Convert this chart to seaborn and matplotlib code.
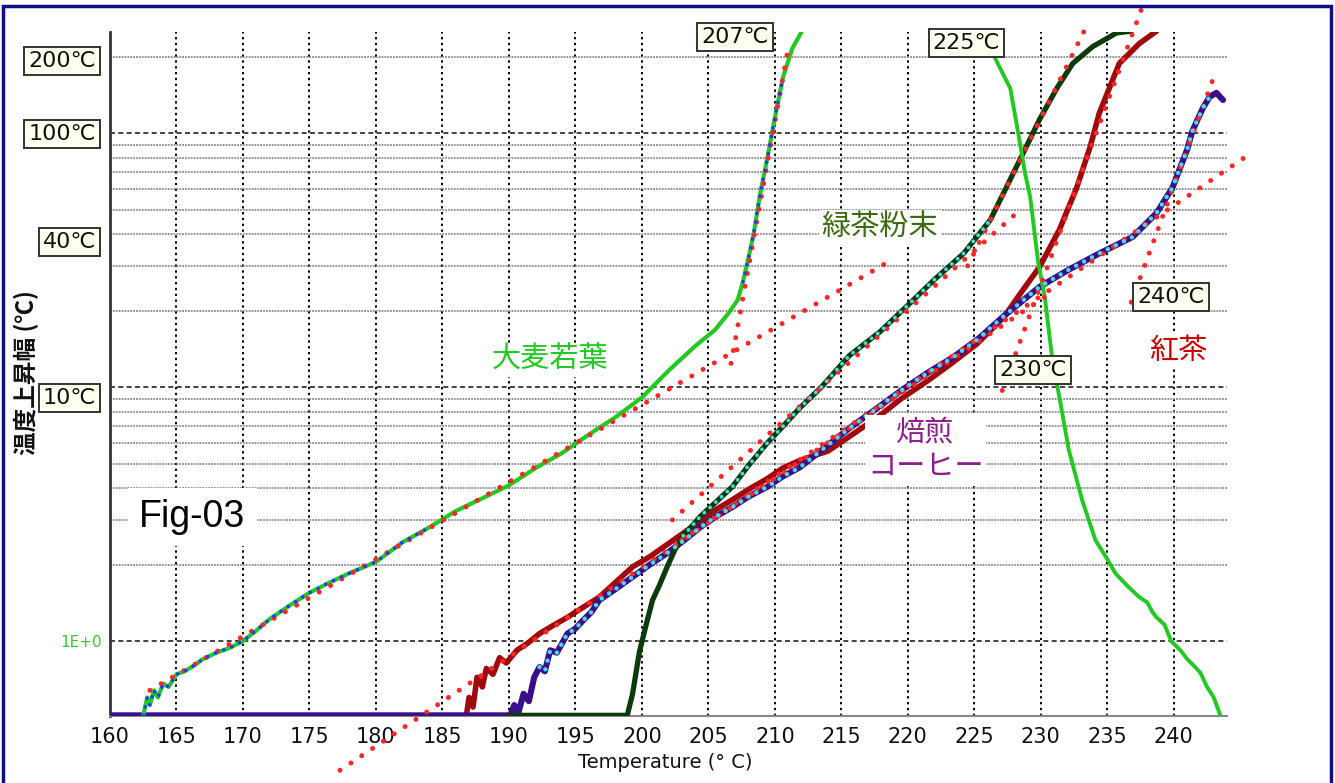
import numpy as np
import matplotlib
matplotlib.use("Agg")
import matplotlib.pyplot as plt
import matplotlib.ticker as mticker
import matplotlib.patches as mpatches
import seaborn as sns

# ============================================================
# DATA
# ============================================================

barley_t = [162.5, 162.8, 163.0, 163.3, 163.6, 164.0, 164.4, 165.0, 165.6, 166.3,
            167.0, 168.0, 169.0, 170.0, 171.0, 172.0, 173.5, 175.0, 176.5, 178.0,
            180.0, 182.0, 184.0, 186.0, 188.0, 190.0, 192.0, 194.0, 196.0, 198.0,
            200.0, 202.0, 204.0, 205.5, 206.5, 207.2, 207.6, 208.0, 208.4, 208.9,
            209.4, 210.0, 210.6, 211.3, 212.0, 212.4]
barley_v = [0.51, 0.60, 0.56, 0.64, 0.60, 0.68, 0.66, 0.74, 0.76, 0.80,
            0.85, 0.90, 0.94, 1.00, 1.10, 1.22, 1.38, 1.55, 1.70, 1.85,
            2.05, 2.45, 2.80, 3.25, 3.65, 4.10, 4.80, 5.50, 6.50, 7.60,
            9.10, 11.6, 14.5, 16.8, 19.5, 22.0, 26.0, 32.0, 40.0, 58.0,
            78.0, 115.0, 165.0, 215.0, 250.0, 290.0]

barley_drop_t = [226.2, 226.5, 227.7, 228.3, 228.8, 229.2, 229.8, 230.3, 230.9, 231.4,
                 232.1, 233.1, 234.1, 235.0, 235.6, 236.5, 237.4, 238.0, 238.4, 238.7,
                 239.3, 239.8, 240.5, 241.0, 241.5, 242.0, 242.5, 243.0, 243.5]
barley_drop_v = [280.0, 200.0, 150.0, 100.0, 70.0, 56.0, 31.0, 22.6, 12.4, 9.1,
                 5.66, 3.60, 2.50, 2.10, 1.85, 1.65, 1.49, 1.42, 1.30, 1.24,
                 1.16, 1.00, 0.92, 0.85, 0.80, 0.75, 0.66, 0.60, 0.51]

greentea_t = [190.1, 197.5, 198.9, 199.3, 199.8, 200.3, 200.8, 201.3, 201.9, 202.5,
              203.1, 203.8, 204.4, 205.5, 206.8, 208.0, 209.4, 210.6, 211.9, 213.5,
              215.6, 217.9, 220.0, 222.0, 224.2, 226.2, 228.4, 229.9, 231.2, 232.4,
              233.9, 235.7, 236.8]
greentea_v = [0.51, 0.51, 0.51, 0.62, 0.90, 1.15, 1.45, 1.65, 1.96, 2.30,
              2.60, 2.85, 3.10, 3.50, 4.05, 4.90, 6.00, 7.00, 8.30, 10.0,
              13.3, 16.5, 21.0, 26.5, 33.6, 45.5, 78.0, 113.0, 150.0, 188.0,
              219.0, 248.0, 252.0]

blacktea_t = [186.8, 187.0, 187.3, 187.6, 188.0, 188.3, 188.8, 189.3, 189.8, 190.6,
              191.4, 192.3, 193.3, 194.4, 195.5, 196.8, 198.0, 199.3, 200.6, 201.9,
              203.2, 204.4, 205.6, 206.8, 208.0, 209.4, 210.6, 211.9, 214.0, 216.0,
              218.0, 219.5, 221.5, 223.2, 225.2, 227.2, 228.5, 229.9, 231.4, 232.7,
              233.7, 234.4, 235.9, 237.4, 238.7]
blacktea_v = [0.51, 0.60, 0.55, 0.72, 0.66, 0.78, 0.74, 0.86, 0.82, 0.92,
              0.98, 1.07, 1.15, 1.24, 1.35, 1.49, 1.70, 1.96, 2.15, 2.40,
              2.68, 2.98, 3.30, 3.60, 3.95, 4.35, 4.80, 5.15, 5.60, 6.60,
              7.80, 9.00, 10.6, 12.3, 14.8, 18.8, 23.5, 29.7, 41.7, 61.0,
              88.0, 120.0, 188.0, 225.0, 252.0]

coffee_t = [160.0, 190.1, 190.4, 190.7, 191.1, 191.5, 191.9, 192.3, 192.7, 193.1,
            193.6, 194.4, 195.0, 195.6, 196.2, 196.8, 198.0, 199.3, 200.6, 201.9,
            203.2, 204.4, 205.6, 206.8, 208.0, 209.4, 210.6, 211.9, 213.8, 215.7,
            217.6, 219.5, 221.5, 223.4, 225.3, 227.2, 229.9, 232.0, 234.4, 236.9,
            238.7, 239.9, 241.0, 241.4, 242.2, 242.7, 243.2, 243.7]
coffee_v = [0.51, 0.51, 0.56, 0.52, 0.62, 0.58, 0.72, 0.79, 0.76, 0.92,
            0.90, 1.07, 1.12, 1.21, 1.30, 1.45, 1.60, 1.79, 2.00, 2.22,
            2.50, 2.81, 3.10, 3.37, 3.70, 4.04, 4.45, 4.84, 5.80, 6.95,
            8.20, 9.70, 11.4, 13.1, 15.5, 19.0, 24.8, 28.8, 33.6, 39.0,
            48.4, 61.0, 86.0, 102.0, 126.0, 139.0, 144.0, 135.0]

# straight-line fits on the log scale: start / end of each red dotted line
fit_t = [[163.0, 218.3], [206.7, 211.0], [202.3, 228.4], [224.5, 233.3],
         [177.3, 230.5], [227.1, 237.6], [203.0, 245.3], [236.8, 243.2]]
fit_v = [[0.64, 30.6], [12.4, 215.0], [3.0, 49.6], [30.0, 255.0],
         [0.31, 23.0], [9.7, 311.0], [2.5, 80.0], [21.6, 177.0]]

onset_labels = ["207℃", "225℃", "230℃", "240℃"]
level_values = [200, 100, 40, 10]
level_labels = ["200℃", "100℃", "40℃", "10℃"]
series_names = ["大麦若葉", "緑茶粉末", "紅茶", "焙煎\nコーヒー"]
x_ticks = [160, 165, 170, 175, 180, 185, 190, 195, 200,
           205, 210, 215, 220, 225, 230, 235, 240]

# ============================================================
# STYLE
# ============================================================

sns.set_style("white")
plt.rcParams["font.family"] = ["DejaVu Sans", "Noto Sans CJK JP"]

C_BARLEY = "#22c922"
C_GREENTEA = "#0b3a0b"
C_BLACKTEA = "#a00a0a"
C_COFFEE = "#3a0f8c"
C_FIT = "#ff2626"
C_CYAN = "#46dce6"
C_BLUE = "#1a3cff"

fig = plt.figure(figsize=(13.35, 7.83), dpi=100)
ax = fig.add_axes([110 / 1335, 67 / 783, 1117 / 1335, 684 / 783])

# ============================================================
# MEASURED CURVES
# ============================================================

curve_kw = dict(ax=ax, estimator=None, sort=False, legend=False)

sns.lineplot(x=blacktea_t, y=blacktea_v, color=C_BLACKTEA, lw=4.0, zorder=3, **curve_kw)
sns.lineplot(x=coffee_t, y=coffee_v, color=C_COFFEE, lw=4.4, zorder=3, **curve_kw)
sns.lineplot(x=greentea_t, y=greentea_v, color=C_GREENTEA, lw=3.8, zorder=3, **curve_kw)
sns.lineplot(x=barley_t, y=barley_v, color=C_BARLEY, lw=3.0, zorder=3, **curve_kw)
sns.lineplot(x=barley_drop_t, y=barley_drop_v, color=C_BARLEY, lw=2.8, zorder=3, **curve_kw)

# ============================================================
# FIT LINES (red dotted)
# ============================================================

for ft, fv in zip(fit_t, fit_v):
    ax.plot(ft, fv, color=C_FIT, lw=3.6, linestyle=(0, (0.01, 2.6)),
            dash_capstyle="round", clip_on=False, zorder=4)

# small dots that overlay parts of the measured curves
dot_kw = dict(dash_capstyle="round", zorder=5)

gt = np.array(greentea_t)
gv = np.array(greentea_v)
m = (gt >= 203.0) & (gt <= 227.0)
ax.plot(gt[m], gv[m], color=C_CYAN, lw=2.8, linestyle=(0, (0.01, 2.0)), **dot_kw)

ct = np.array(coffee_t)
cv = np.array(coffee_v)
m = (ct >= 192.0) & (ct <= 242.7)
ax.plot(ct[m], cv[m], color=C_CYAN, lw=3.2, linestyle=(0, (0.01, 2.0)), **dot_kw)

bt = np.array(barley_t)
bv = np.array(barley_v)
m = bt <= 184.0
ax.plot(bt[m], bv[m], color=C_BLUE, lw=2.6, linestyle=(0, (0.01, 2.4)), **dot_kw)
m = (bt >= 207.4) & (bt <= 211.0)
ax.plot(bt[m], bv[m], color=C_BLUE, lw=2.6, linestyle=(0, (0.01, 2.4)), **dot_kw)

# ============================================================
# AXES, GRID
# ============================================================

ax.set_yscale("log")
ax.set_xlim(160, 244)
ax.set_ylim(0.507, 250)

ax.xaxis.set_major_locator(mticker.FixedLocator(x_ticks))
ax.xaxis.set_minor_locator(mticker.MultipleLocator(2.5))
ax.yaxis.set_major_locator(mticker.FixedLocator([1, 10, 100]))
ax.yaxis.set_major_formatter(mticker.FixedFormatter(["1E+0", "", ""]))
ax.yaxis.set_minor_locator(mticker.FixedLocator(
    [2, 3, 4, 5, 6, 7, 8, 9, 20, 30, 40, 50, 60, 70, 80, 90, 200]))
ax.yaxis.set_minor_formatter(mticker.NullFormatter())

ax.set_axisbelow(True)
ax.grid(which="major", axis="x", color="black", lw=1.4, linestyle=(0, (1.2, 1.8)))
ax.grid(which="major", axis="y", color="#222222", lw=1.2, linestyle=(0, (3, 2)))
ax.grid(which="minor", axis="y", color="#8a8a8a", lw=1.3, linestyle=(0, (1, 0.6)))

ax.tick_params(axis="x", which="major", length=0, labelsize=15, pad=8, colors="#111111")
ax.tick_params(axis="x", which="minor", length=4, direction="in", color="#777777")
ax.tick_params(axis="y", which="both", length=0, pad=6)
for lab in ax.get_yticklabels():
    lab.set_color("#33cc33")
    lab.set_fontsize(11)

for s in ["top", "right"]:
    ax.spines[s].set_visible(False)
ax.spines["left"].set_color("#333333")
ax.spines["left"].set_linewidth(2.0)
ax.spines["bottom"].set_color("#888888")
ax.spines["bottom"].set_linewidth(1.5)

ax.set_xlabel("")
ax.set_ylabel("")

fig.text(665 / 1335, 1 - 763 / 783, "Temperature (° C)", ha="center", va="center",
         fontsize=14, color="#111111")
fig.text(26 / 1335, 1 - 373 / 783, "温度上昇幅 (℃)", rotation=90, ha="center",
         va="center", fontsize=17, color="#111111", fontweight="bold",
         family=["Noto Sans CJK JP", "DejaVu Sans"])

# ============================================================
# BOXED LABELS
# ============================================================

box = dict(boxstyle="square,pad=0.18", fc="#fffff0", ec="#333333", lw=1.4)

level_dy = [-3, -1, -6, -8]
for val, lab, dy in zip(level_values, level_labels, level_dy):
    ax.annotate(lab, xy=(-0.0125, val), xycoords=ax.get_yaxis_transform(),
                xytext=(0, dy), textcoords="offset points", ha="right", va="center",
                fontsize=16, color="#111111", bbox=box, annotation_clip=False, zorder=8)

onset_pos = [(207.0, 240), (224.4, 226), (229.4, 11.7), (239.8, 22.6)]
for (tx, ty), lab in zip(onset_pos, onset_labels):
    ax.text(tx, ty, lab, ha="center", va="center", fontsize=16, color="#111111",
            bbox=box, zorder=8, clip_on=False)

# ============================================================
# SERIES NAMES
# ============================================================

name_kw = dict(ha="center", va="center", fontsize=21, zorder=7,
               family=["Noto Sans CJK JP", "DejaVu Sans"],
               bbox=dict(boxstyle="square,pad=0.08", fc="white", ec="none"))
ax.text(193.1, 12.8, series_names[0], color="#22c922", **name_kw)
ax.text(217.9, 42.7, series_names[1], color="#3d6b12", **name_kw)
ax.text(240.3, 13.9, series_names[2], color="#cc0000", **name_kw)
ax.text(221.3, 5.65, series_names[3], color="#8b1c8b", linespacing=1.2, **name_kw)

ax.text(166.2, 3.08, "Fig-03", ha="center", va="center", fontsize=27,
        family="Liberation Sans", color="black", zorder=7,
        bbox=dict(boxstyle="square,pad=0.3", fc="white", ec="none"))

# ============================================================
# FRAME
# ============================================================

fig.patches.append(mpatches.Rectangle((3 / 1335, -0.01), 1328 / 1335, 1.01 - 6 / 783,
                                      transform=fig.transFigure, fill=False,
                                      edgecolor="#10108a", lw=2.5))

fig.savefig("out.png", dpi=100)
